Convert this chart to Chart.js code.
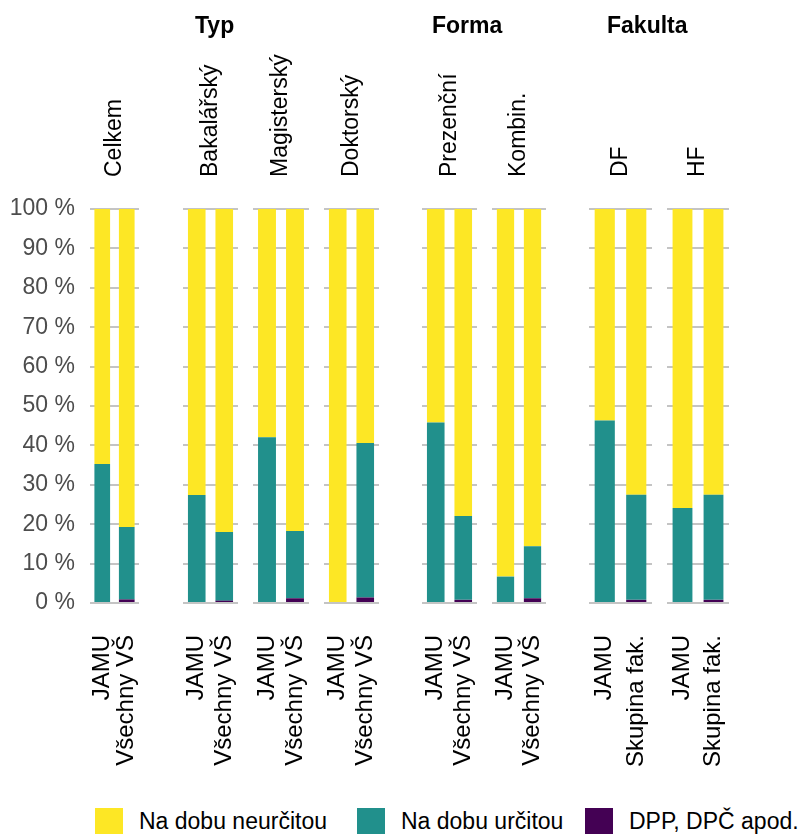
<!DOCTYPE html>
<html>
<head>
<meta charset="utf-8">
<script src="https://cdn.jsdelivr.net/npm/chart.js@4.4.1/dist/chart.umd.min.js"></script>
<style>
body { margin:0; background:#fff; width:811px; height:836px; position:relative; overflow:hidden;
       font-family:'Liberation Sans', Arial, sans-serif; }
canvas { position:absolute; top:0; }
.grp { position:absolute; top:10px; font-weight:bold; font-size:23px; line-height:30px; color:#000; }
.leg { position:absolute; top:808px; height:26px; display:flex; align-items:center; font-size:23px; color:#000; white-space:nowrap; }
.leg .box { width:28px; height:26px; margin-right:16px; }
</style>
</head>
<body>
<script>
// data
var panels = ['Celkem', 'Bakalářský', 'Magisterský', 'Doktorský', 'Prezenční', 'Kombin.', 'DF', 'HF'];
var barLabels = [
    ['JAMU', 'Všechny VŠ'], ['JAMU', 'Všechny VŠ'], ['JAMU', 'Všechny VŠ'], ['JAMU', 'Všechny VŠ'],
    ['JAMU', 'Všechny VŠ'], ['JAMU', 'Všechny VŠ'], ['JAMU', 'Skupina fak.'], ['JAMU', 'Skupina fak.']
];
var groups = ['Typ', 'Forma', 'Fakulta'];
var seriesNames = ['Na dobu neurčitou', 'Na dobu určitou', 'DPP, DPČ apod.'];
// two values per panel: JAMU, comparison
var urcitou   = [35.3, 18.4,  27.4, 17.4,  42.1, 17.1,  0, 39.2,  45.8, 21.3,  6.7, 13.2,  46.3, 26.7,  24.1, 26.7];
var dpp       = [0, 0.9,      0, 0.6,      0, 1.2,      0, 1.4,   0, 0.8,      0, 1.2,     0, 0.8,      0, 0.8];
var neurcitou = [64.7, 80.7,  72.6, 82.0,  57.9, 81.7,  100, 59.4,  54.2, 77.9,  93.3, 85.6,  53.7, 72.5,  75.9, 72.5];
var yTicks = [0, 10, 20, 30, 40, 50, 60, 70, 80, 90, 100];

// layout
var colors = ['#FDE725', '#21908C', '#440154'];
var panelLeft  = [90, 183, 253, 324, 422, 492, 589, 667];
var panelRight = [139, 238, 309, 379, 477, 546, 652, 729];
var groupLeft = [195, 432, 607];
var legLeft = [95, 357, 585];
var fontSize = 23;

Chart.defaults.font.family = "'Liberation Sans', Arial, sans-serif";
Chart.defaults.font.size = fontSize;
Chart.defaults.color = '#000';

function fixX(h) {
    return function(s) { s.height = h; s.paddingLeft = 0; s.paddingRight = 0; s.paddingTop = 0; s.paddingBottom = 0; };
}

panels.forEach(function(name, p) {
    var axisW = p === 0 ? 90 : 0;
    var cv = document.createElement('canvas');
    cv.width = panelRight[p] - panelLeft[p] + axisW;
    cv.height = 790;
    cv.style.left = (panelLeft[p] - axisW) + 'px';
    document.body.appendChild(cv);
    var i0 = p * 2;

    new Chart(cv, {
        type: 'bar',
        data: {
            labels: barLabels[p],
            datasets: [
                { label: seriesNames[2], data: dpp.slice(i0, i0 + 2), backgroundColor: colors[2] },
                { label: seriesNames[1], data: urcitou.slice(i0, i0 + 2), backgroundColor: colors[1] },
                { label: seriesNames[0], data: neurcitou.slice(i0, i0 + 2), backgroundColor: colors[0] }
            ]
        },
        options: {
            responsive: false,
            animation: false,
            layout: { padding: 0 },
            plugins: { legend: { display: false }, tooltip: { enabled: false } },
            datasets: { bar: { barPercentage: 0.64, categoryPercentage: 1, borderWidth: 0 } },
            scales: {
                x: {
                    stacked: true, position: 'bottom',
                    grid: { display: false }, border: { display: false },
                    ticks: { color: '#000', font: { size: 24 }, minRotation: 90, maxRotation: 90, padding: 24, autoSkip: false },
                    afterFit: fixX(187)
                },
                x2: {
                    type: 'category', axis: 'x', position: 'top', labels: [name], offset: true,
                    grid: { display: false }, border: { display: false },
                    // rotated top labels get pushed left by one line height, push them back
                    ticks: { color: '#000', minRotation: 90, maxRotation: 90, padding: 24, labelOffset: fontSize * 1.2 },
                    afterFit: fixX(209)
                },
                y: {
                    stacked: true, min: 0, max: 100,
                    grid: { color: '#c4c4c4', lineWidth: 2, drawTicks: false },
                    border: { display: false },
                    afterBuildTicks: function(s) { s.ticks = yTicks.map(function(v) { return { value: v }; }); },
                    ticks: { display: p === 0, padding: 15, color: '#4d4d4d',
                             callback: function(v) { return v + ' %'; } },
                    afterFit: function(s) { s.width = axisW; s.paddingTop = 0; s.paddingBottom = 0; }
                }
            }
        }
    });
});

groups.forEach(function(g, i) {
    var d = document.createElement('div');
    d.className = 'grp';
    d.style.left = groupLeft[i] + 'px';
    d.textContent = g;
    document.body.appendChild(d);
});

seriesNames.forEach(function(n, i) {
    var d = document.createElement('div');
    d.className = 'leg';
    d.style.left = legLeft[i] + 'px';
    var b = document.createElement('div');
    b.className = 'box';
    b.style.background = colors[i];
    var t = document.createElement('span');
    t.textContent = n;
    d.appendChild(b);
    d.appendChild(t);
    document.body.appendChild(d);
});
</script>
</body>
</html>
